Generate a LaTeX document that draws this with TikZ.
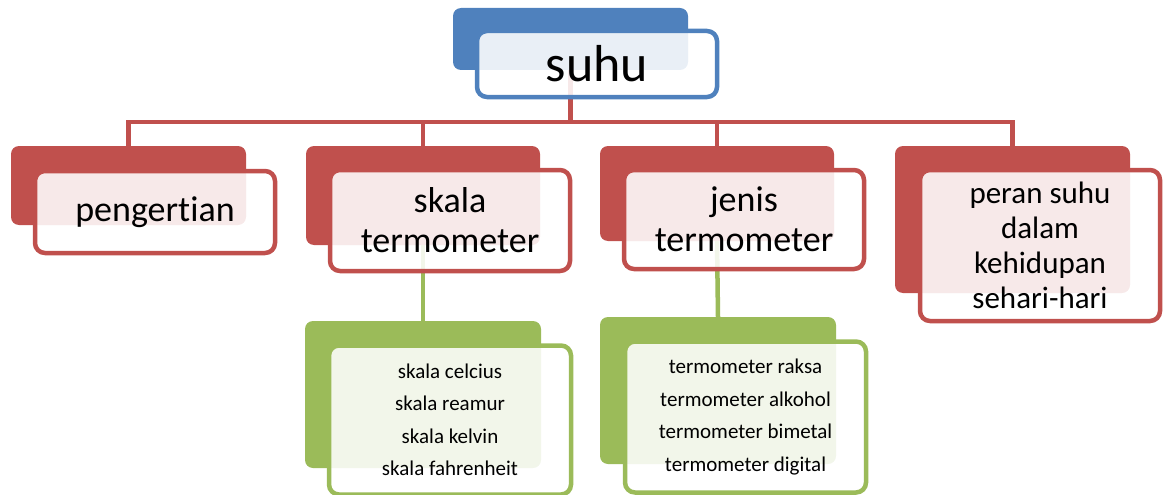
\documentclass[tikz,border=0pt]{standalone}
\usepackage{fontspec}
\setmainfont[Ligatures=NoCommon,RawFeature={-liga;-dlig;-clig}]{Carlito}
\definecolor{cblue}{HTML}{4F81BD}
\definecolor{cred}{HTML}{C0504D}
\definecolor{cgreen}{HTML}{9BBB59}
\begin{document}
\begin{tikzpicture}[x=1pt,y=-1pt,
  backbox/.style={rectangle,rounded corners=8pt,inner sep=0pt,outer sep=0pt,draw=none,fill=#1},
  frontbox/.style={rectangle,rounded corners=10pt,inner sep=0pt,outer sep=0pt,draw=#1,line width=4.5pt,fill=white,fill opacity=0.88,text opacity=1,align=center,text=black},
  conn/.style={draw=#1,line width=4.5pt},
  big/.style={font=\fontsize{52}{60}\selectfont},
  mid/.style={font=\fontsize{36}{40}\selectfont},
  midsmall/.style={font=\fontsize{31}{35}\selectfont},
  small/.style={font=\fontsize{21}{32.5}\selectfont}]
\useasboundingbox (0,0) rectangle (1164,495);
% back boxes
\node[backbox=cblue,minimum width=235pt,minimum height=62pt] (sb) at (570.5,39) {};
\node[backbox=cred,minimum width=235pt,minimum height=79pt] (pb) at (128.5,185.5) {};
\node[backbox=cred,minimum width=234pt,minimum height=99pt] (kb) at (423,195.5) {};
\node[backbox=cred,minimum width=234pt,minimum height=95pt] (jb) at (717,193.5) {};
\node[backbox=cred,minimum width=235pt,minimum height=147pt] (rb) at (1012.5,219.5) {};
\node[backbox=cgreen,minimum width=236pt,minimum height=147pt] (kgb) at (423,394.5) {};
\node[backbox=cgreen,minimum width=236pt,minimum height=147pt] (jgb) at (718,390.5) {};
% connectors
\coordinate (bus) at (570,122);
\draw[conn=cred] (pb.north) -- (pb.north |- bus) -| (rb.north);
\draw[conn=cred] (sb.south) -- (sb.south |- bus);
\draw[conn=cred] (kb.north) -- (kb.north |- bus);
\draw[conn=cred] (jb.north) -- (jb.north |- bus);
\draw[conn=cgreen] (kb.south) -- (kgb.north);
\draw[conn=cgreen] (jb.south) -- (jgb.north);
% front boxes
\node[frontbox=cblue,big,minimum width=240pt,minimum height=66pt] (sf) at (597,64) {suhu};
\node[frontbox=cred,mid,minimum width=240pt,minimum height=82pt] (pf) at (155,212) {pengertian};
\node[frontbox=cred,mid,minimum width=240pt,minimum height=101pt] (kf) at (450,220.5) {skala\\termometer};
\node[frontbox=cred,mid,minimum width=240pt,minimum height=99pt] (jf) at (744,219.5) {jenis\\termometer};
\node[frontbox=cred,midsmall,minimum width=240pt,minimum height=151pt] (rf) at (1040,245.5) {peran suhu\\dalam\\kehidupan\\sehari-hari};
\node[frontbox=cgreen,small,minimum width=242pt,minimum height=149pt] (kgf) at (450,420) {skala celcius\\skala reamur\\skala kelvin\\skala fahrenheit};
\node[frontbox=cgreen,small,minimum width=241pt,minimum height=151pt] (jgf) at (745.5,417) {termometer raksa\\termometer alkohol\\termometer bimetal\\termometer digital};
\end{tikzpicture}
\end{document}
